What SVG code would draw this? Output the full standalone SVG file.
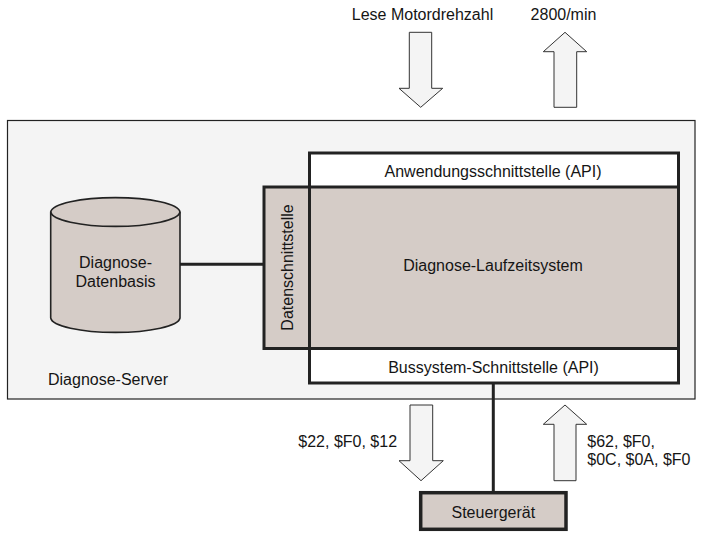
<svg xmlns="http://www.w3.org/2000/svg" width="703" height="536" viewBox="0 0 703 536">
<style>
text{font-family:"Liberation Sans",Arial,sans-serif;font-size:16px;fill:#151515}
.c{text-anchor:middle}
.arrow{fill:#f4f4f4;stroke:#333;stroke-width:1;stroke-linejoin:miter}
.thick{stroke:#222;stroke-width:3;fill:none}
.gray{fill:#d5ccc7}
</style>
<rect width="703" height="536" fill="#ffffff"/>
<g id="server">
<rect x="7.5" y="120.5" width="687.5" height="278.5" fill="#f4f4f4" stroke="#222" stroke-width="1.2"/>
<text x="48" y="385">Diagnose-Server</text>
</g>
<g id="datenbasis">
<path d="M50.7,212 L50.7,318 A64.7,15 0 0 0 180,318 L180,212 A64.7,15 0 0 0 50.7,212 Z" class="gray" stroke="#222" stroke-width="1.6"/>
<path d="M50.7,212 A64.7,15 0 0 0 180,212" fill="none" stroke="#222" stroke-width="1.6"/>
<text class="c" x="115.5" y="268">Diagnose-</text>
<text class="c" x="115.5" y="287">Datenbasis</text>
</g>
<g id="api-frame">
<rect x="309.5" y="153" width="369" height="230" fill="#ffffff"/>
</g>
<g id="laufzeitsystem">
<rect x="264" y="187" width="414.5" height="161.5" class="gray"/>
<rect x="264" y="187" width="414.5" height="161.5" class="thick"/>
<text class="c" x="493" y="271">Diagnose-Laufzeitsystem</text>
</g>
<g id="datenschnittstelle">
<text class="c" transform="translate(293,267.5) rotate(-90)" x="0" y="0">Datenschnittstelle</text>
</g>
<g id="api">
<rect x="309.5" y="153" width="369" height="230" class="thick"/>
<text class="c" x="493" y="177">Anwendungsschnittstelle (API)</text>
</g>
<g id="bussystem">
<text class="c" x="493.5" y="373">Bussystem-Schnittstelle (API)</text>
</g>
<g id="steuergeraet">
<rect x="420.7" y="492.7" width="145.3" height="36.6" class="gray" stroke="#222" stroke-width="3.5"/>
<text class="c" x="493.3" y="518">Steuergerät</text>
</g>
<g id="connectors">
<line x1="180" y1="264.3" x2="264" y2="264.3" stroke="#222" stroke-width="3"/>
<line x1="493.3" y1="383" x2="493.3" y2="492.7" stroke="#222" stroke-width="3"/>
<polygon class="arrow" points="409.3,32.3 431.7,32.3 431.7,88.3 442.7,88.3 420.7,107.3 399,88.3 409.3,88.3"/>
<polygon class="arrow" points="565,32.3 586.7,51.7 576.7,51.7 576.7,107.3 554,107.3 554,51.7 543.3,51.7"/>
<polygon class="arrow" points="410,405 432.7,405 432.7,460.7 443.3,460.7 421,480.7 399,460.7 410,460.7"/>
<polygon class="arrow" points="565,405 586.7,424.3 576,424.3 576,480.7 554,480.7 554,424.3 543.3,424.3"/>
<text class="c" x="422.5" y="20">Lese Motordrehzahl</text>
<text class="c" x="563.5" y="20">2800/min</text>
<text x="298.3" y="446.7">$22, $F0, $12</text>
<text x="587.3" y="446.7">$62, $F0,</text>
<text x="587.3" y="465">$0C, $0A, $F0</text>
</g>
</svg>
